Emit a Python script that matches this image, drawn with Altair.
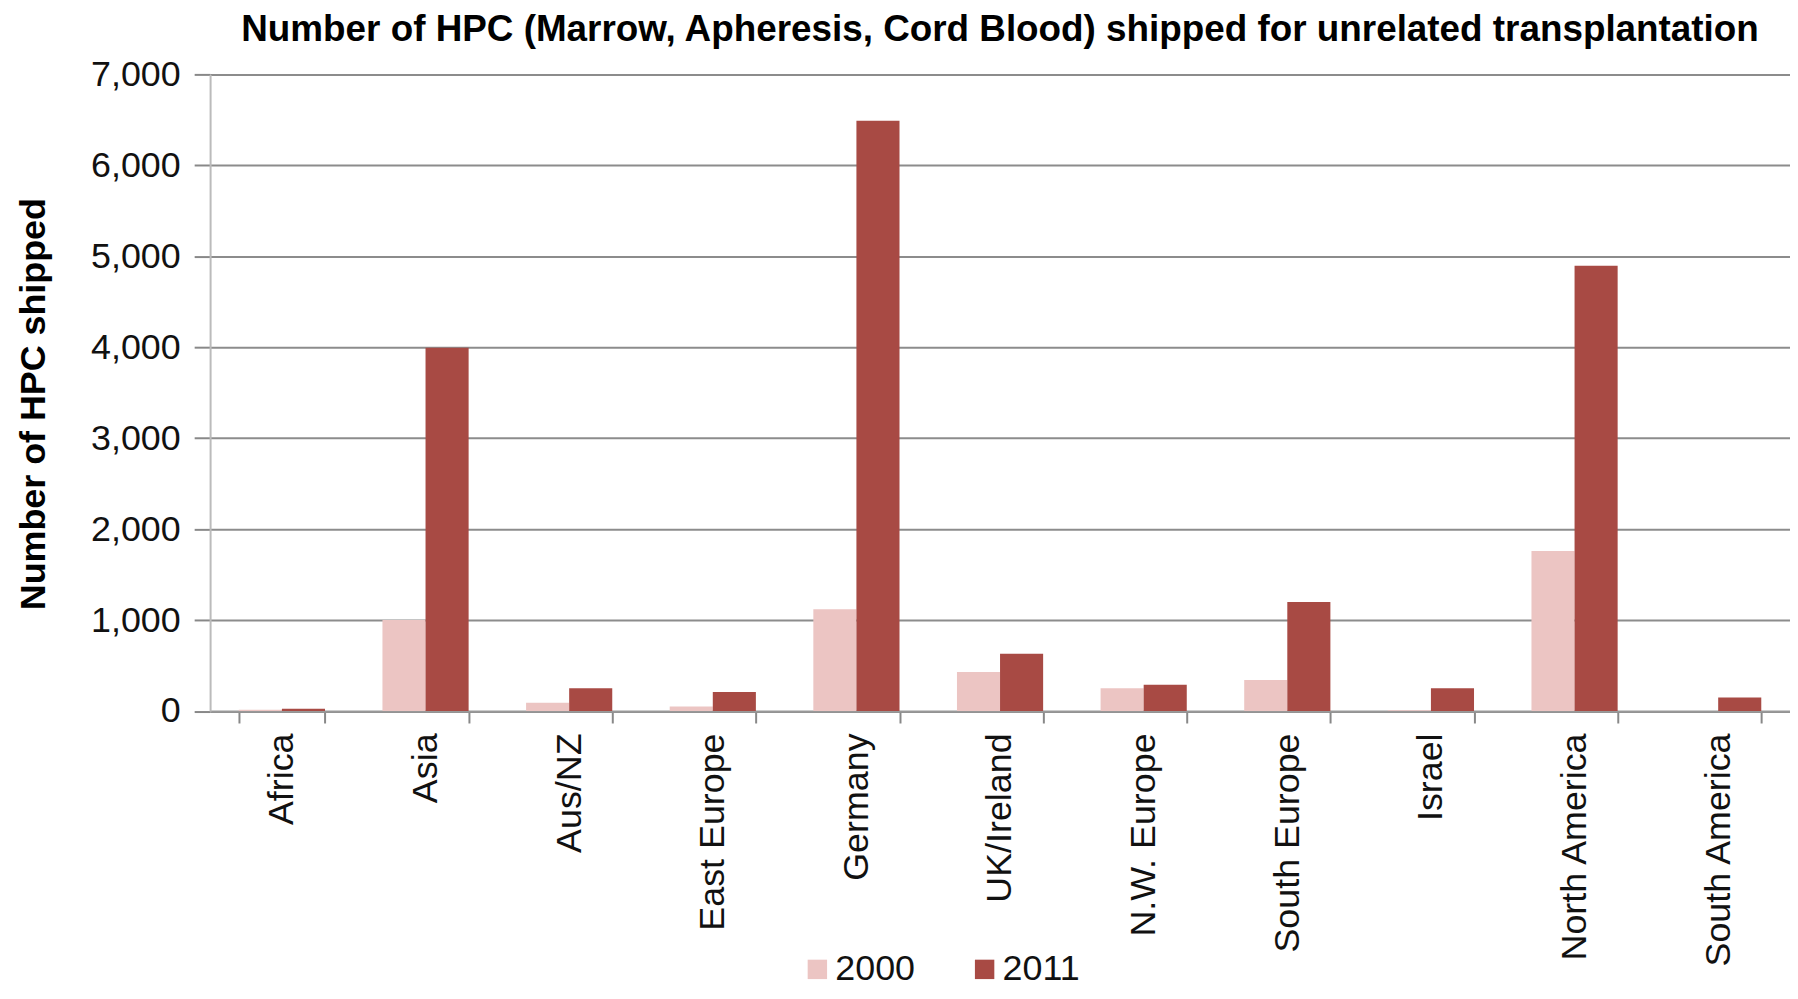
import altair as alt
import pandas as pd

regions = ["Africa", "Asia", "Aus/NZ", "East Europe", "Germany", "UK/Ireland",
           "N.W. Europe", "South Europe", "Israel", "North America", "South America"]
years = ["2000", "2011"]
v2000 = [15, 1000, 90, 50, 1120, 430, 250, 340, 10, 1760, 0]
v2011 = [25, 3995, 250, 210, 6490, 630, 290, 1200, 250, 4895, 150]
colors = ["#ECC5C3", "#A84A44"]
y_ticks = [0, 1000, 2000, 3000, 4000, 5000, 6000, 7000]

rows = []
for r, a, b in zip(regions, v2000, v2011):
    rows.append({"region": r, "year": "2000", "value": a})
    rows.append({"region": r, "year": "2011", "value": b})
df = pd.DataFrame(rows)

FONT = "Liberation Sans"
H = 639.5

chart = alt.Chart(df).mark_bar().encode(
    x=alt.X("region:N", sort=regions,
            scale=alt.Scale(paddingInner=0.4, paddingOuter=0.2),
            axis=alt.Axis(title=None, labelAngle=-90, labelAlign="right",
                          labelBaseline="middle", labelFontSize=36, labelFont=FONT,
                          labelColor="#111111", labelPadding=10, tickBand="extent",
                          tickSize=12, tickColor="#888888", tickWidth=2,
                          domainColor="#999999", domainWidth=2, grid=False,
                          labelLimit=500)),
    xOffset=alt.XOffset("year:N", sort=years,
                        scale=alt.Scale(paddingInner=0, paddingOuter=0)),
    y=alt.Y("value:Q", scale=alt.Scale(domain=[0, 7000], nice=False),
            axis=alt.Axis(title="Number of HPC shipped", values=y_ticks, format=",.0f",
                          labelFontSize=36, labelFont=FONT, labelColor="#111111",
                          labelPadding=14, tickSize=16, tickColor="#888888", tickWidth=2,
                          domainColor="#BBBBBB", domainWidth=2,
                          gridColor="#8C8C8C", gridWidth=2,
                          titleFont=FONT, titleFontSize=36, titleFontWeight="bold",
                          titleColor="#000000", titlePadding=38, titleY=H / 2 + 11)),
    color=alt.Color("year:N", scale=alt.Scale(domain=years, range=colors),
                    legend=alt.Legend(title=None, orient="none", legendX=592, legendY=881,
                                      direction="horizontal", symbolType="square",
                                      symbolSize=380, symbolStrokeWidth=0,
                                      labelFontSize=36, labelFont=FONT,
                                      labelColor="#111111", labelOffset=0,
                                      columnPadding=51))
).properties(
    width=1587,
    height=H,
    title=alt.TitleParams(
        text="Number of  HPC (Marrow, Apheresis, Cord Blood) shipped for unrelated transplantation",
        font=FONT, fontSize=37, fontWeight="bold", color="#000000",
        anchor="middle", offset=8),
    autosize=alt.AutoSizeParams(type="none"),
    padding={"left": 203, "top": 64.5, "right": 0, "bottom": 275},
).configure_view(stroke=None)

chart.save("out.html", embed_options={"renderer": "svg", "actions": False})
